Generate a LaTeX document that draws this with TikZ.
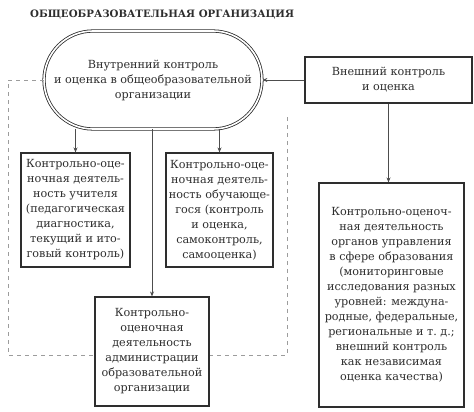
\documentclass[tikz,border=0pt]{standalone}
\usepackage{fontspec}
\setmainfont{DejaVu Serif}
\usetikzlibrary{arrows.meta,shapes.misc}
\definecolor{ink}{HTML}{2E2E2E}
\definecolor{dashgray}{HTML}{9C9C9C}
\tikzset{
  box/.style={draw=ink, line width=1.1pt, fill=white, inner sep=0pt, align=center,
    text=ink, font=\fontsize{11.2}{15}\selectfont},
  stadium/.style={box, rounded rectangle, draw=ink, line width=0.8pt,
    double=white, double distance=1.6pt},
  link/.style={draw=ink!85, line width=0.8pt, -{Stealth[length=5pt,width=4pt]}},
  dashline/.style={draw=dashgray, line width=0.8pt, dash pattern=on 4pt off 4pt},
}
\begin{document}
\begin{tikzpicture}[x=1pt,y=-1pt]
\useasboundingbox (0,0) rectangle (474,412);

\node[anchor=west, text=ink, inner sep=0pt, font=\bfseries\fontsize{10.2}{12}\selectfont] (title) at (30,15)
  {ОБЩЕОБРАЗОВАТЕЛЬНАЯ ОРГАНИЗАЦИЯ};

\node[stadium, minimum width=218pt, minimum height=98pt] (inner) at (153,80)
  {Внутренний контроль\\и оценка в общеобразовательной\\организации};
\node[box, minimum width=167pt, minimum height=46pt] (outer) at (388.5,80)
  {Внешний контроль\\и оценка};

\draw[dashline] (inner.west) -| (8,355) -| (287,117);

\node[box, minimum width=109pt, minimum height=114pt] (teacher) at (75.5,210)
  {Контрольно-оце-\\ночная деятель-\\ность учителя\\(педагогическая\\диагностика,\\текущий и ито-\\говый контроль)};
\node[box, minimum width=107pt, minimum height=114pt] (pupil) at (219.5,210)
  {Контрольно-оце-\\ночная деятель-\\ность обучающе-\\гося (контроль\\и оценка,\\самоконтроль,\\самооценка)};
\node[box, minimum width=114pt, minimum height=109pt] (admin) at (152,351.5)
  {Контрольно-\\оценочная\\деятельность\\администрации\\образовательной\\организации};
\node[box, minimum width=145pt, minimum height=224pt] (bodies) at (391.5,295)
  {Контрольно-оценоч-\\ная деятельность\\органов управления\\в сфере образования\\(мониторинговые\\исследования разных\\уровней: междуна-\\родные, федеральные,\\региональные и т.~д.;\\внешний контроль\\как независимая\\оценка качества)};

\draw[link] (outer.west) -- (inner.east);
\draw[link] (outer.south) -- (outer.south |- bodies.north);
\draw[link] (teacher.north |- inner.south) -- (teacher.north);
\draw[link] (pupil.north |- inner.south) -- (pupil.north);
\draw[link] (inner.south -| admin.north) -- (admin.north);

\end{tikzpicture}
\end{document}
